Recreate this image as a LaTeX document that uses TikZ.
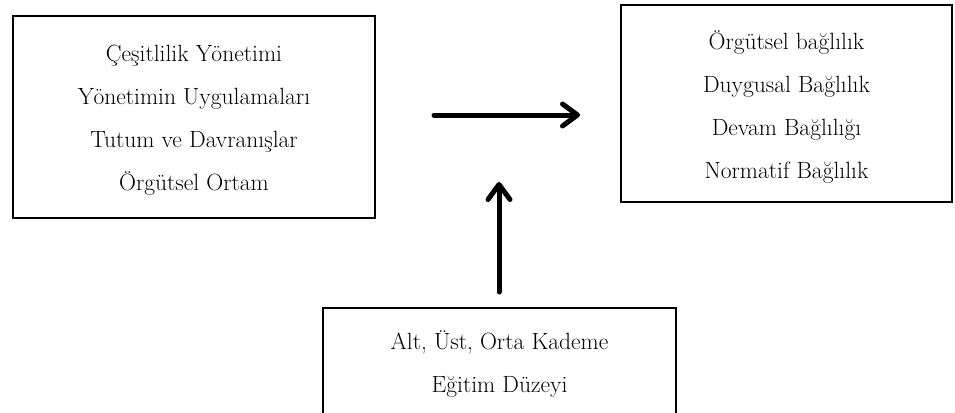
\documentclass[tikz,border=0pt]{standalone}
\usepackage{fontspec}
\usetikzlibrary{arrows.meta}
\tikzset{
  framebox/.style={draw=black, line width=2pt, rectangle, inner sep=0pt},
  boxtext/.style={align=center, font=\fontsize{23.5}{43}\selectfont, inner sep=0pt},
  thickarrow/.style={line width=5pt, line cap=round, line join=round,
    -{Straight Barb[length=15pt,width=22pt,line cap=round,line join=round]}}
}
\begin{document}
\begin{tikzpicture}[x=1pt,y=-1pt]
\clip (0,0) rectangle (955,412);
\fill[white] (0,0) rectangle (955,412);
% boxes
\node[framebox, minimum width=362pt, minimum height=202pt] (left) at (194,117) {};
\node[framebox, minimum width=331pt, minimum height=197pt] (right) at (786.5,103.5) {};
\node[framebox, minimum width=353pt, minimum height=130pt] (bottom) at (499.5,373) {};
% texts
\node[boxtext] (lefttext) at (194,120) {Çeşitlilik Yönetimi\\Yönetimin Uygulamaları\\Tutum ve Davranışlar\\Örgütsel Ortam};
\node[boxtext] (righttext) at (786.5,107) {Örgütsel bağlılık\\Duygusal Bağlılık\\Devam Bağlılığı\\Normatif Bağlılık};
\node[boxtext] (bottomtext) at (499.5,364) {Alt, Üst, Orta Kademe\\Eğitim Düzeyi};
% arrows
\coordinate (hs) at (434,115);
\coordinate (he) at (580,115);
\coordinate (vs) at (499,292);
\coordinate (ve) at (499,182);
\draw[thickarrow] (hs) -- (he);
\draw[thickarrow] (vs) -- (ve);
\end{tikzpicture}
\end{document}
